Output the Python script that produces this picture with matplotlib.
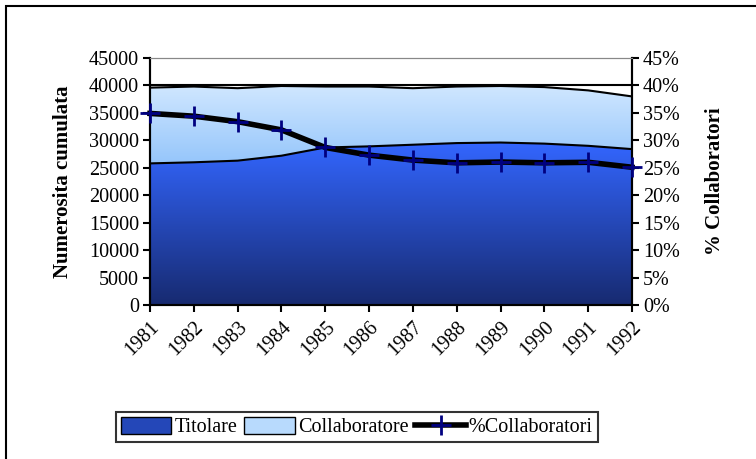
import matplotlib
matplotlib.use("Agg")
import matplotlib.pyplot as plt
import numpy as np
from matplotlib.patches import Rectangle, Patch
from matplotlib.lines import Line2D
from matplotlib.colors import LinearSegmentedColormap

plt.rcParams['font.family'] = ['Liberation Serif', 'DejaVu Serif']

years = ['1981', '1982', '1983', '1984', '1985', '1986', '1987', '1988', '1989', '1990', '1991', '1992']
titolare = [25800, 26000, 26300, 27200, 28700, 28900, 29200, 29500, 29600, 29400, 29000, 28400]
totale = [39600, 39800, 39500, 39900, 39800, 39800, 39500, 39800, 39900, 39700, 39100, 38000]
collaboratore = [t - s for t, s in zip(totale, titolare)]
pct_collab = [34.9, 34.4, 33.4, 31.9, 28.7, 27.3, 26.4, 25.9, 26.05, 25.9, 26.0, 25.1]

FS = 14.5

fig = plt.figure(figsize=(7.56, 4.59), dpi=100)
ax = fig.add_axes([150/756, 1-305/459, 482/756, 247/459])
x = np.arange(len(years))
top = np.array(titolare) + np.array(collaboratore)

def grad_fill(ax, x, y0, y1, c_bottom, c_top, ymin, ymax):
    poly = ax.fill_between(x, y0, y1, color='none', lw=0)
    cmap = LinearSegmentedColormap.from_list('g', [c_bottom, c_top])
    grad = np.linspace(0, 1, 256).reshape(-1, 1)
    im = ax.imshow(grad, cmap=cmap, aspect='auto', origin='lower',
                   extent=[x[0], x[-1], ymin, ymax], zorder=1)
    path = poly.get_paths()[0]
    im.set_clip_path(path, transform=ax.transData)
    return im

grad_fill(ax, x, 0, titolare, '#172a70', '#3366ff', 0, max(titolare))
grad_fill(ax, x, titolare, top, '#96c6fb', '#d0e7ff', min(titolare), max(top))
ax.plot(x, titolare, color='black', lw=1.5, zorder=3)
ax.plot(x, top, color='black', lw=1.5, zorder=3)
ax.axhline(40000, color='black', lw=1.5, zorder=3)

ax.set_xlim(0, len(years) - 1)
ax.set_ylim(0, 45000)
ax.set_yticks(np.arange(0, 45001, 5000))
ax.set_xticks(x)
ax.set_xticklabels(years, rotation=45, ha='right', rotation_mode='anchor', fontsize=FS)
ax.tick_params(axis='y', labelsize=FS, direction='out', length=5, width=1.5, pad=3)
ax.tick_params(axis='x', direction='out', length=5, width=1.5, pad=4)
for s in ['left', 'right', 'bottom']:
    ax.spines[s].set_linewidth(1.5)
ax.spines['top'].set_color('#888888')
ax.set_ylabel('Numerosita cumulata', fontsize=15, fontweight='bold', labelpad=11)

ax2 = ax.twinx()
ax2.plot(x, pct_collab, color='black', lw=4, marker='+', markersize=14,
         markeredgecolor='#000080', markeredgewidth=2, zorder=5, clip_on=False)
ax2.set_ylim(0, 45)
ax2.set_yticks(np.arange(0, 46, 5))
ax2.set_yticklabels([f'{v}%' for v in range(0, 46, 5)])
ax2.tick_params(axis='y', labelsize=FS, direction='out', length=5, width=1.5, pad=3)
for s in ['left', 'right', 'bottom']:
    ax2.spines[s].set_linewidth(1.5)
ax2.spines['top'].set_color('#888888')
ax2.set_ylabel('% Collaboratori', fontsize=15, fontweight='bold', labelpad=18)

handles = [Patch(facecolor='#2447b8', edgecolor='black', lw=1),
           Patch(facecolor='#b8dafd', edgecolor='black', lw=1),
           Line2D([0], [0], color='black', lw=4, marker='+', markersize=14,
                  markeredgecolor='#000080', markeredgewidth=2)]
leg = fig.legend(handles, ['Titolare', 'Collaboratore', '%Collaboratori'],
                 loc='center', bbox_to_anchor=(357/756, 1-427/459), ncol=3,
                 fontsize=FS, frameon=True, fancybox=False, edgecolor='black',
                 handlelength=2.5, handleheight=0.9, handletextpad=0.15, columnspacing=0.35,
                 borderpad=0.25, borderaxespad=0)
leg.get_frame().set_linewidth(1.5)

fig.patches.append(Rectangle((6/756, -0.1), 1.2, 1.1 - 6/459, transform=fig.transFigure,
                             fill=False, edgecolor='black', lw=1.5))

fig.savefig('out.png', dpi=100)
